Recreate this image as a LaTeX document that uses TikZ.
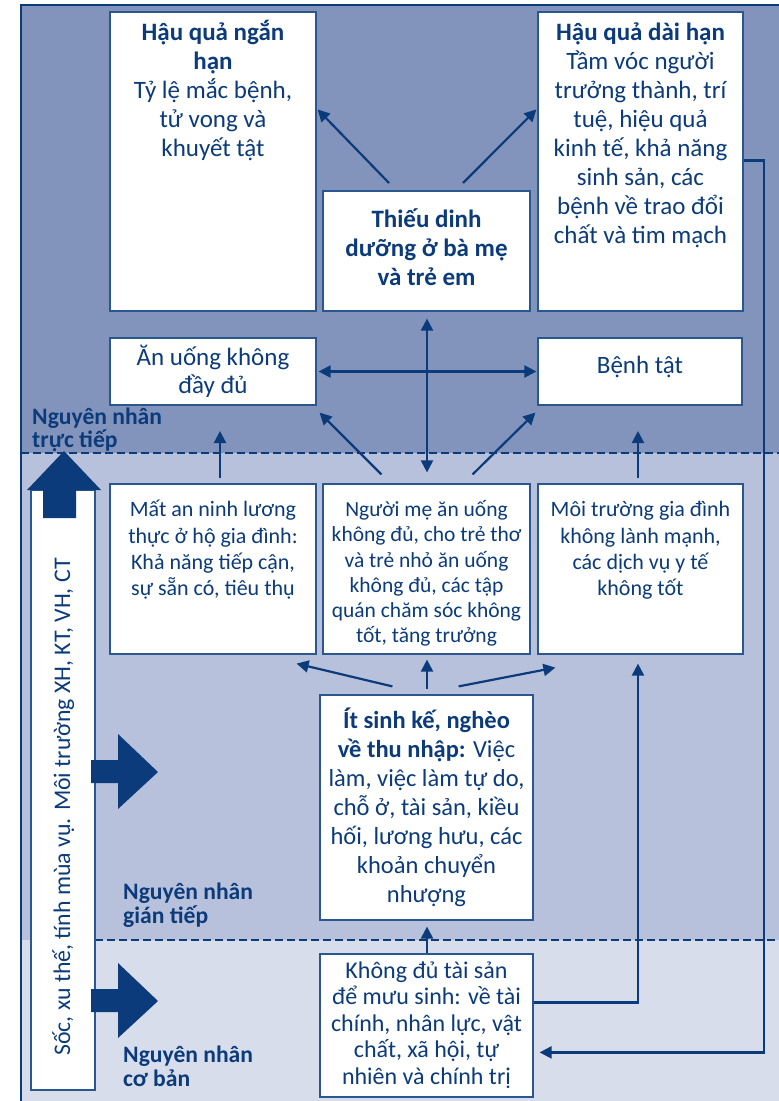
\documentclass[tikz,border=0pt]{standalone}
\usepackage{fontspec}
\setmainfont{Carlito}
\usetikzlibrary{arrows.meta,calc}

\definecolor{navy}{HTML}{0B3B7A}
\definecolor{bandA}{HTML}{8394BC}
\definecolor{bandB}{HTML}{B8C1DB}
\definecolor{bandC}{HTML}{D8DDEB}
\definecolor{edge}{HTML}{2A578F}

% font sizes used in the boxes
\newcommand\fbig{\fontsize{25}{29}\selectfont}
\newcommand\ffood{\fontsize{22}{26.3}\selectfont}
\newcommand\fcare{\fontsize{21.5}{25.2}\selectfont}
\newcommand\fpoor{\fontsize{24.5}{29}\selectfont}
\newcommand\fasset{\fontsize{24}{26.5}\selectfont}
\newcommand\fside{\fontsize{23.8}{28}\selectfont}
% fixed-size text block: width, height, first baseline, text
\newcommand\boxtext[4]{\begin{minipage}[c][#2][t]{#1}\centering\color{navy}\rule{0pt}{#3}#4\end{minipage}}

\begin{document}
\begin{tikzpicture}[x=1pt,y=-1pt,
  box/.style={draw=edge,fill=white,line width=1.2pt,inner sep=0pt},
  link/.style={draw=navy,line width=2.2pt,-{Triangle[length=12pt,width=12pt]}},
  link2/.style={draw=navy,line width=2.2pt,{Triangle[length=12pt,width=12pt]}-{Triangle[length=12pt,width=12pt]}},
  lab/.style={text=navy,align=left,inner sep=0pt,anchor=base west}]

\useasboundingbox (0,0) rectangle (779,1101);

% background bands
\fill[bandA] (21,5) rectangle (779,453);
\fill[bandB] (21,453) rectangle (779,940);
\fill[bandC] (21,940) rectangle (779,1101);
\draw[navy,line width=1.5pt] (21,1101) -- (21,5) -- (779,5);
\draw[navy,line width=2pt,dash pattern=on 8pt off 4pt] (21,453) -- (779,453);
\draw[navy,line width=2pt,dash pattern=on 8pt off 4pt] (95,940) -- (779,940);

% boxes
\node[box] (b1) at (213,161.5) {\boxtext{206pt}{299pt}{28pt}{\fbig\textbf{Hậu quả ngắn}\\\textbf{hạn}\\Tỷ lệ mắc bệnh,\\tử vong và\\khuyết tật}};
\node[box] (b2) at (426.5,251) {\boxtext{207pt}{120pt}{36.7pt}{\fbig\bfseries Thiếu dinh\\dưỡng ở bà mẹ\\và trẻ em}};
\node[box] (b3) at (640.5,161.5) {\boxtext{205pt}{299pt}{28pt}{\fbig\textbf{Hậu quả dài hạn}\\Tầm vóc người\\trưởng thành, trí\\tuệ, hiệu quả\\kinh tế, khả năng\\sinh sản, các\\bệnh về trao đổi\\chất và tim mạch}};
\node[box] (b4) at (213,371.5) {\boxtext{206pt}{67pt}{27pt}{\fontsize{25}{28.3}\selectfont Ăn uống không\\đầy đủ}};
\node[box] (b5) at (640,371.5) {\boxtext{204pt}{67pt}{35.3pt}{\fbig Bệnh tật}};
\node[box] (b6) at (213,569) {\boxtext{206pt}{170pt}{32.7pt}{\ffood Mất an ninh lương\\thực ở hộ gia đình:\\Khả năng tiếp cận,\\sự sẵn có, tiêu thụ}};
\node[box] (b7) at (426.5,569) {\boxtext{207pt}{170pt}{32.7pt}{\fcare Người mẹ ăn uống\\không đủ, cho trẻ thơ\\và trẻ nhỏ ăn uống\\không đủ, các tập\\quán chăm sóc không\\tốt, tăng trưởng}};
\node[box] (b8) at (640.5,569) {\boxtext{205pt}{170pt}{32.7pt}{\ffood Môi trường gia đình\\không lành mạnh,\\các dịch vụ y tế\\không tốt}};
\node[box] (b9) at (426.5,807.5) {\boxtext{213pt}{225pt}{33pt}{\fpoor\textbf{Ít sinh kế, nghèo}\\\textbf{về thu nhập:} Việc\\làm, việc làm tự do,\\chỗ ở, tài sản, kiều\\hối, lương hưu, các\\khoản chuyển\\nhượng}};
\node[box] (b10) at (426.5,1025.5) {\boxtext{213pt}{143pt}{24pt}{\fasset Không đủ tài sản\\để mưu sinh: về tài\\chính, nhân lực, vật\\chất, xã hội, tự\\nhiên và chính trị}};

% side column with its arrow
\node[box,minimum width=64pt,minimum height=600pt] (vb) at (63,790) {};
\node[rotate=90,anchor=base,inner sep=0pt,text=navy,font=\fside] (vt) at (70,807) {Sốc, xu thế, tính mùa vụ. Môi trường XH, KT, VH, CT};
\fill[navy] (43,518) -- (43,490) -- (27,490) -- (64,451) -- (101,490) -- (76,490) -- (76,518) -- cycle;
\fill[navy] (91,760) -- (118,760) -- (118,734) -- (158,772) -- (118,809) -- (118,783) -- (91,783) -- cycle;
\fill[navy] (91,989) -- (118,989) -- (118,963) -- (158,1001) -- (118,1038) -- (118,1012) -- (91,1012) -- cycle;

% level labels (anchored at the baseline of their last line)
\node[lab,font={\fontsize{23.6}{20}\selectfont\bfseries}] (l1) at (32,447) {Nguyên nhân\\trực tiếp};
\node[lab,font={\fontsize{23.6}{24}\selectfont\bfseries}] (l2) at (123,923) {Nguyên nhân\\gián tiếp};
\node[lab,font={\fontsize{23.6}{24}\selectfont\bfseries}] (l3) at (123,1086) {Nguyên nhân\\cơ bản};

% connectors
\coordinate (p1) at (389,183);
\coordinate (p2) at (463,183);
\coordinate (q6) at (220,431);
\coordinate (q8) at (638,431);
\draw[link] (p1) -- ($(b1.north east)+(1,98)$);
\draw[link] (p2) -- ($(b3.north west)+(-1,98)$);
\draw[link2] ($(b4.east)+(2,0)$) -- ($(b5.west)+(-1,0)$);
\draw[link2] ($(b2.south)+(0.5,7)$) -- ($(b7.north)+(0.5,-11)$);
\draw[link] ($(b7.north west)+(59,-9)$) -- ($(b4.south east)+(3,7)$);
\draw[link] ($(b7.north east)+(-58,-9)$) -- ($(b5.south west)+(-2,7)$);
\draw[link] ($(b6.north)+(7,-5)$) -- (q6);
\draw[link] ($(b8.north)+(-2.5,-5)$) -- (q8);
\draw[link] ($(b9.north)+(0.5,-5)$) -- ($(b7.south)+(0.5,5)$);
\draw[link] ($(b9.north west)+(73,-8)$) -- ($(b6.south east)+(-20,9)$);
\draw[link] ($(b9.north east)+(-75,-8)$) -- ($(b8.south west)+(18,13)$);
\draw[link] ($(b10.north)+(0.5,0)$) -- ($(b9.south)+(0.5,6)$);
\draw[link] ($(b10.north east)+(0,49)$) -| ($(b8.south)+(-2.5,9)$);
\draw[link] ($(b3.north east)+(0,149)$) -- ($(b3.north east)+(20,149)$) |- ($(b10.north east)+(6,99)$);
\end{tikzpicture}
\end{document}
